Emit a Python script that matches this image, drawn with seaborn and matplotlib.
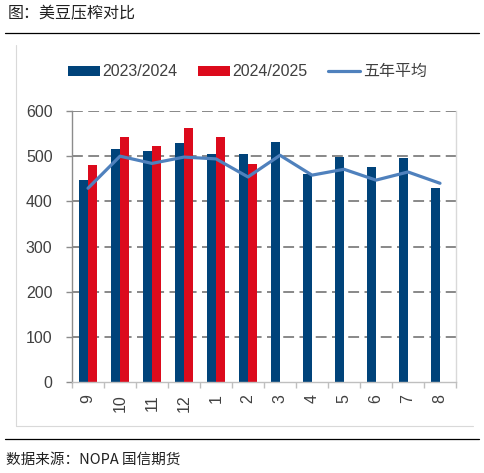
import numpy as np
import pandas as pd
import matplotlib
matplotlib.use("Agg")
import matplotlib.pyplot as plt
import seaborn as sns
from matplotlib.lines import Line2D
from matplotlib.patches import Patch

# data
months = ["9", "10", "11", "12", "1", "2", "3", "4", "5", "6", "7", "8"]
crush_2324 = [447, 515, 512, 529, 504, 504, 532, 460, 499, 477, 496, 429]
crush_2425 = [481, 542, 523, 562, 542, 482, np.nan, np.nan, np.nan, np.nan, np.nan, np.nan]
avg_5yr = [429, 500, 484, 498, 494, 454, 502, 458, 471, 447, 465, 440]
season_labels = ["2023/2024", "2024/2025"]
avg_label = "五年平均"

NAVY = "#00437A"
RED = "#DC0A1C"
LINE_BLUE = "#4F81BD"
GRID = "#7F7F7F"
TXT = "#404040"

sns.set_style("white")
plt.rcParams["font.family"] = ["Liberation Sans", "Noto Sans CJK SC", "DejaVu Sans"]

df = pd.DataFrame({
    "month": months * 2,
    "season": [season_labels[0]] * len(months) + [season_labels[1]] * len(months),
    "value": crush_2324 + crush_2425,
})

fig = plt.figure(figsize=(4.85, 4.73), dpi=100)
ax = fig.add_axes([0.1485, 0.1924, 0.7917, 0.5729])

sns.barplot(data=df, x="month", y="value", hue="season", order=months,
            hue_order=season_labels, palette=[NAVY, RED], width=0.56,
            saturation=1, ax=ax, legend=False, linewidth=0, dodge=True)
sns.lineplot(x=np.arange(len(months)), y=avg_5yr, color=LINE_BLUE,
             linewidth=2.3, ax=ax, legend=False)

ax.set_xlim(-0.5, len(months) - 0.5)
ax.set_ylim(0, 600)
ax.set_yticks(range(0, 601, 100))
ax.set_xlabel("")
ax.set_ylabel("")

for v in range(100, 601, 100):
    ax.axhline(v, color=GRID, lw=1.3, ls=(0, (6, 3)), zorder=0)

ax.spines["top"].set_visible(False)
ax.spines["left"].set_color("#8C8C8C")
ax.spines["bottom"].set_color("#BFBFBF")
ax.spines["right"].set_color("#D9D9D9")
for s in ["left", "bottom", "right"]:
    ax.spines[s].set_linewidth(1.0)

ax.tick_params(axis="y", which="major", length=4, width=1, color="#8C8C8C",
               labelsize=11.5, labelcolor=TXT, pad=10, direction="out", left=True)
ax.tick_params(axis="x", which="major", length=0, labelsize=11.5,
               labelcolor=TXT, pad=9, rotation=90)
ax.set_xticks(np.arange(-0.5, len(months), 1.0), minor=True)
ax.tick_params(axis="x", which="minor", length=4, width=1, color="#BFBFBF",
               direction="out", bottom=True)

handles = [
    Patch(facecolor=NAVY, edgecolor="none", label=season_labels[0]),
    Patch(facecolor=RED, edgecolor="none", label=season_labels[1]),
    Line2D([0], [0], color=LINE_BLUE, lw=2.3, label=avg_label),
]
fig.legend(handles=handles, loc="center", bbox_to_anchor=(0.51, 0.848), ncol=3,
           frameon=False, fontsize=11.5, handlelength=2.0, handleheight=0.55,
           handletextpad=0.15, columnspacing=1.3, labelcolor=TXT)

# title, rules, frame and source note
fig.text(0.016, 0.971, "图：美豆压榨对比", fontsize=11.5, color="#202020",
         family=["Noto Sans CJK SC"], va="center", ha="left")
fig.add_artist(Line2D([0.010, 0.988], [1 - 33 / 473] * 2, color="black", lw=0.9))
fig.add_artist(Line2D([0.010, 0.988], [1 - 439 / 473] * 2, color="black", lw=0.9))
fig.add_artist(Line2D([16 / 485] * 2, [1 - 45 / 473, 1 - 426 / 473], color="#D9D9D9", lw=0.8))
fig.add_artist(Line2D([16 / 485, 473 / 485], [1 - 426 / 473] * 2, color="#D9D9D9", lw=0.8))
fig.text(0.012, 1 - 460 / 473, "数据来源：NOPA 国信期货", fontsize=10.5, color="#202020",
         family=["Noto Sans CJK SC"], va="center", ha="left")

fig.savefig("out.png", dpi=100)
